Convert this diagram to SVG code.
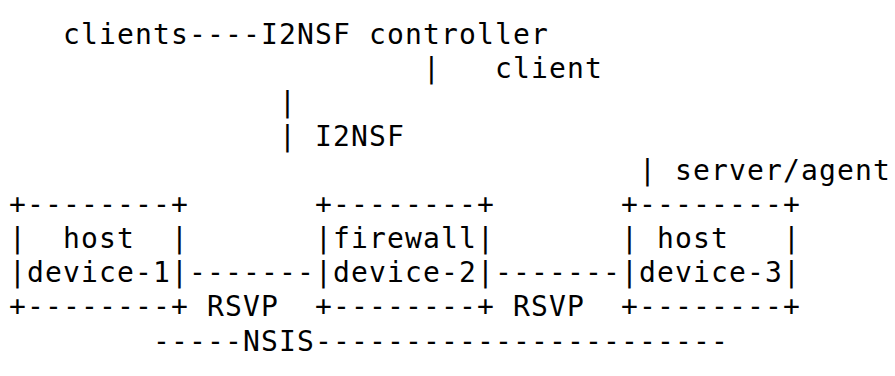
<svg xmlns="http://www.w3.org/2000/svg" width="895" height="376" viewBox="0 0 895 376" xml:space="preserve">
<style>
text { font-family: "DejaVu Sans Mono", "Liberation Mono", monospace; font-size: 28px; letter-spacing: 1.14px; fill: #000; white-space: pre; }
</style>
<rect width="895" height="376" fill="#fff"/>
<g id="clients"><text x="63" y="44">clients</text></g>
<g id="controller"><text x="261" y="44">I2NSF controller</text></g>
<g id="device-1">
<text x="9" y="214">+--------+</text>
<text x="9" y="248">|  host  |</text>
<text x="9" y="282">|device-1|</text>
<text x="9" y="316">+--------+</text>
</g>
<g id="device-2">
<text x="315" y="214">+--------+</text>
<text x="315" y="248">|firewall|</text>
<text x="315" y="282">|device-2|</text>
<text x="315" y="316">+--------+</text>
</g>
<g id="device-3">
<text x="621" y="214">+--------+</text>
<text x="621" y="248">| host   |</text>
<text x="621" y="282">|device-3|</text>
<text x="621" y="316">+--------+</text>
</g>
<g id="connectors">
<text x="189" y="44">----</text>
<text x="423" y="78">|</text>
<text x="495" y="78">client</text>
<text x="279" y="112">|</text>
<text x="279" y="146">|</text>
<text x="315" y="146">I2NSF</text>
<text x="639" y="180">|</text>
<text x="675" y="180">server/agent</text>
<text x="189" y="282">-------</text>
<text x="495" y="282">-------</text>
<text x="207" y="316">RSVP</text>
<text x="513" y="316">RSVP</text>
<text x="153" y="350.5">-----NSIS-----------------------</text>
</g>
</svg>
